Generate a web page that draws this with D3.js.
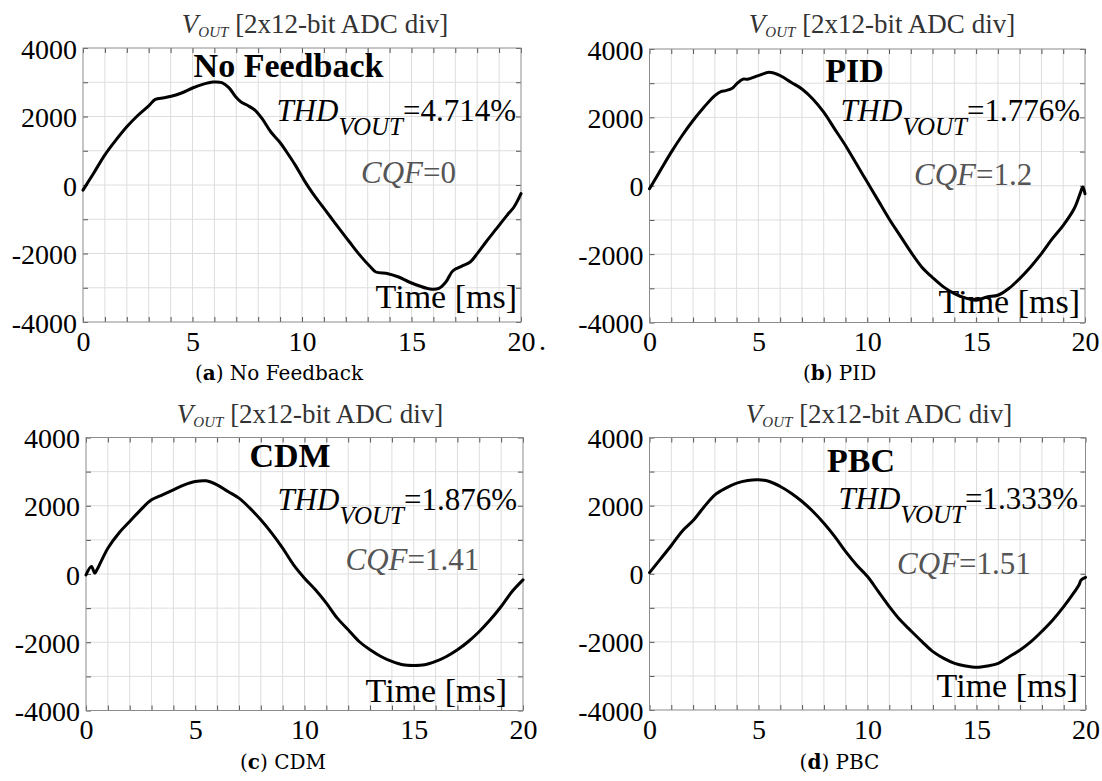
<!DOCTYPE html>
<html>
<head>
<meta charset="utf-8">
<script src="https://cdn.jsdelivr.net/npm/d3@7"></script>
<style>
  html, body { margin: 0; padding: 0; background: #fff; }
  svg { display: block; }
  text { font-family: "Liberation Serif", "Times New Roman", serif; }
</style>
</head>
<body>
<svg id="chart" width="1102" height="781"></svg>
<script>
// ---------------- DATA ----------------
const xTickValues = [0, 5, 10, 15, 20];
const yTickValues = [-4000, -2000, 0, 2000, 4000];
const panelNames = ["No Feedback", "PID", "CDM", "PBC"];
const captionLetters = ["a", "b", "c", "d"];
const thdValues = ["4.714", "1.776", "1.876", "1.333"];
const cqfValues = ["0", "1.2", "1.41", "1.51"];

const timeNoFeedback = [0, 0.5, 1, 1.5, 2, 2.5, 3, 3.3, 3.7, 4.03, 4.5, 5, 5.46, 5.94, 6.34, 6.66, 6.98, 7.22, 7.54, 7.86, 8.18, 8.58, 8.98, 9.3, 9.7, 10.1, 10.5, 10.9, 11.3, 11.7, 12.17, 12.65, 13.13, 13.37, 13.93, 14.41, 14.89, 15.37, 15.85, 16.25, 16.57, 16.88, 17.28, 17.68, 18, 18.4, 18.88, 19.36, 19.68, 20];
const voutNoFeedback = [-150, 360, 880, 1310, 1700, 2030, 2310, 2500, 2545, 2590, 2686, 2832, 2939, 3007, 2988, 2842, 2569, 2423, 2316, 2180, 1937, 1547, 1255, 964, 574, 136, -253, -594, -934, -1275, -1664, -2054, -2394, -2540, -2589, -2686, -2832, -2949, -3036, -3017, -2832, -2511, -2375, -2248, -2005, -1664, -1275, -886, -642, -253];

const timePID = [0, 0.5, 1, 1.5, 2, 2.5, 3, 3.3, 3.5, 3.8, 4, 4.3, 4.5, 5, 5.5, 6, 6.5, 7, 7.5, 8, 8.5, 9, 9.5, 10, 10.5, 11, 11.5, 12, 12.5, 13, 13.5, 14, 14.5, 15, 15.5, 16, 16.5, 17, 17.5, 18, 18.5, 19, 19.5, 19.8, 19.9, 20];
const voutPID = [-90, 450, 983, 1470, 1908, 2297, 2637, 2760, 2783, 2850, 2978, 3120, 3114, 3221, 3318, 3221, 3027, 2832, 2540, 2151, 1664, 1178, 642, 107, -428, -963, -1450, -1937, -2375, -2686, -2959, -3153, -3280, -3348, -3250, -3202, -3007, -2715, -2375, -1985, -1547, -1158, -672, -185, -40, -233];

const timeCDM = [0, 0.25, 0.4, 0.5, 1, 1.5, 2, 2.5, 3, 3.5, 4, 4.5, 5, 5.5, 6, 6.5, 7, 7.5, 8, 8.5, 9, 9.5, 10, 10.5, 11, 11.5, 12, 12.5, 13, 13.5, 14, 14.5, 15, 15.5, 16, 16.5, 17, 17.5, 18, 18.5, 19, 19.5, 20];
const voutCDM = [-25, 220, 25, 122, 757, 1196, 1538, 1880, 2173, 2319, 2466, 2612, 2710, 2730, 2612, 2417, 2222, 1929, 1587, 1196, 757, 269, -122, -464, -854, -1294, -1636, -1978, -2222, -2417, -2563, -2661, -2681, -2661, -2563, -2417, -2222, -1978, -1685, -1343, -952, -513, -171];

const timePBC = [0, 0.5, 1, 1.5, 2, 2.5, 3, 3.5, 4, 4.5, 5, 5.5, 6, 6.5, 7, 7.5, 8, 8.5, 9, 9.5, 10, 10.5, 11, 11.5, 12, 12.5, 13, 13.5, 14, 14.5, 15, 15.5, 16, 16.5, 17, 17.5, 18, 18.5, 19, 19.5, 19.7, 19.8, 20];
const voutPBC = [34, 430, 830, 1250, 1560, 1960, 2317, 2513, 2660, 2738, 2758, 2709, 2562, 2366, 2121, 1827, 1484, 1092, 651, 260, -83, -524, -965, -1360, -1680, -1993, -2287, -2483, -2630, -2709, -2748, -2709, -2630, -2434, -2238, -1993, -1690, -1357, -965, -524, -330, -181, -103];

const seriesTimes = [timeNoFeedback, timePID, timeCDM, timePBC];
const seriesVouts = [voutNoFeedback, voutPID, voutCDM, voutPBC];

// ---------------- LAYOUT ----------------
const layout = [
  { left: 83,  right: 521,  top: 48,  bottom: 322,
    titleX: 315, titleY: 33, nameX: 288.5, nameY: 76.5,
    thdX: 516, thdY: 120.5, cqfX: 361, cqfY: 183,
    timeX: 517, timeY: 308, capX: 279, capY: 380 },
  { left: 649.5, right: 1085, top: 49, bottom: 322.5,
    titleX: 882, titleY: 33, nameX: 854.5, nameY: 81.7,
    thdX: 1080, thdY: 121, cqfX: 914, cqfY: 185,
    timeX: 1080, timeY: 313, capX: 839.6, capY: 380 },
  { left: 86, right: 523, top: 437.5, bottom: 710.5,
    titleX: 310, titleY: 423, nameX: 290, nameY: 466.7,
    thdX: 517, thdY: 510, cqfX: 345.5, cqfY: 570,
    timeX: 507, timeY: 701.7, capX: 283, capY: 769 },
  { left: 649.5, right: 1085.5, top: 437.5, bottom: 710,
    titleX: 879, titleY: 423, nameX: 861, nameY: 471.7,
    thdX: 1078, thdY: 509, cqfX: 897, cqfY: 574,
    timeX: 1078, timeY: 696.7, capX: 839.5, capY: 769 }
];

const svg = d3.select("#chart");
const minorX = d3.range(0, 21, 1);
const minorY = d3.range(-4000, 4001, 1000);
const serif = '"Liberation Serif", "Times New Roman", serif';

layout.forEach((L, i) => {
  const x = d3.scaleLinear().domain([0, 20]).range([L.left, L.right]);
  const y = d3.scaleLinear().domain([-4000, 4000]).range([L.bottom, L.top]);
  const g = svg.append("g");

  // grid
  g.append("g").selectAll("line").data(minorX.slice(1, -1)).join("line")
    .attr("x1", d => x(d)).attr("x2", d => x(d))
    .attr("y1", L.top).attr("y2", L.bottom)
    .attr("stroke", "#dedede").attr("stroke-width", 1);
  g.append("g").selectAll("line").data(minorY.slice(1, -1)).join("line")
    .attr("y1", d => y(d)).attr("y2", d => y(d))
    .attr("x1", L.left).attr("x2", L.right)
    .attr("stroke", "#dedede").attr("stroke-width", 1);

  // inward minor ticks on all four sides
  const tickStyle = sel => {
    sel.select(".domain").remove();
    sel.selectAll("text").remove();
    sel.selectAll("line").attr("stroke", "#555").attr("stroke-width", 1);
  };
  g.append("g").attr("transform", `translate(0,${L.bottom})`)
    .call(d3.axisBottom(x).tickValues(minorX).tickSize(-5)).call(tickStyle);
  g.append("g").attr("transform", `translate(0,${L.top})`)
    .call(d3.axisTop(x).tickValues(minorX).tickSize(-5)).call(tickStyle);
  g.append("g").attr("transform", `translate(${L.left},0)`)
    .call(d3.axisLeft(y).tickValues(minorY).tickSize(-5)).call(tickStyle);
  g.append("g").attr("transform", `translate(${L.right},0)`)
    .call(d3.axisRight(y).tickValues(minorY).tickSize(-5)).call(tickStyle);

  // frame
  g.append("rect").attr("x", L.left).attr("y", L.top)
    .attr("width", L.right - L.left).attr("height", L.bottom - L.top)
    .attr("fill", "none").attr("stroke", "#8c8c8c").attr("stroke-width", 1);

  // tick labels
  const labelStyle = sel => {
    sel.attr("font-family", serif);
    sel.select(".domain").remove();
    sel.selectAll("line").remove();
    sel.selectAll("text").attr("font-family", serif)
      .attr("font-size", 28).attr("fill", "#000");
  };
  g.append("g").attr("transform", `translate(0,${L.bottom})`)
    .call(d3.axisBottom(x).tickValues(xTickValues).tickSize(0).tickPadding(9).tickFormat(d => String(d)))
    .call(labelStyle);
  g.append("g").attr("transform", `translate(${L.left},0)`)
    .call(d3.axisLeft(y).tickValues(yTickValues).tickSize(0).tickPadding(6).tickFormat(d => String(d)))
    .call(labelStyle)
    .selectAll("text").attr("dy", "0.36em");

  if (i === 0) {
    g.append("text").attr("x", x(20) + 18).attr("y", L.bottom + 28)
      .attr("font-size", 28).text(".");
  }

  // curve
  const pts = seriesTimes[i].map((t, k) => [t, seriesVouts[i][k]]);
  g.append("path").datum(pts)
    .attr("fill", "none").attr("stroke", "#000").attr("stroke-width", 3)
    .attr("stroke-linejoin", "round").attr("stroke-linecap", "round")
    .attr("d", d3.line().x(d => x(d[0])).y(d => y(d[1])).curve(d3.curveCatmullRom.alpha(0.5)));

  // title
  const title = g.append("text").attr("x", L.titleX).attr("y", L.titleY)
    .attr("text-anchor", "middle").attr("font-size", 27).attr("fill", "#333");
  title.append("tspan").attr("font-style", "italic").text("V");
  title.append("tspan").attr("font-style", "italic").attr("font-size", 15).attr("dy", 4).text("OUT");
  title.append("tspan").attr("dy", -4).text(" [2x12-bit ADC div]");

  // bold controller name
  g.append("text").attr("x", L.nameX).attr("y", L.nameY)
    .attr("text-anchor", "middle").attr("font-size", 34).attr("font-weight", "bold")
    .attr("fill", "#000").text(panelNames[i]);

  // THD
  const thd = g.append("text").attr("x", L.thdX).attr("y", L.thdY)
    .attr("text-anchor", "end").attr("fill", "#000");
  thd.append("tspan").attr("font-style", "italic").attr("font-size", 31).text("THD");
  thd.append("tspan").attr("font-style", "italic").attr("font-size", 25).attr("dy", 14).text("VOUT");
  thd.append("tspan").attr("font-size", 31).attr("dy", -14).text("=" + thdValues[i] + "%");

  // CQF
  const cqf = g.append("text").attr("x", L.cqfX).attr("y", L.cqfY)
    .attr("font-size", 31).attr("fill", "#555");
  cqf.append("tspan").attr("font-style", "italic").text("CQF");
  cqf.append("tspan").text("=" + cqfValues[i]);

  // axis name
  g.append("text").attr("x", L.timeX).attr("y", L.timeY)
    .attr("text-anchor", "end").attr("font-size", 34).attr("fill", "#000")
    .text("Time [ms]");

  // caption
  const cap = g.append("text").attr("x", L.capX).attr("y", L.capY)
    .attr("text-anchor", "middle").attr("font-size", 20).attr("fill", "#000")
    .style("font-family", '"DejaVu Serif", serif');
  cap.append("tspan").text("(");
  cap.append("tspan").attr("font-weight", "bold").text(captionLetters[i]);
  cap.append("tspan").text(") " + panelNames[i]);
});
</script>
</body>
</html>
